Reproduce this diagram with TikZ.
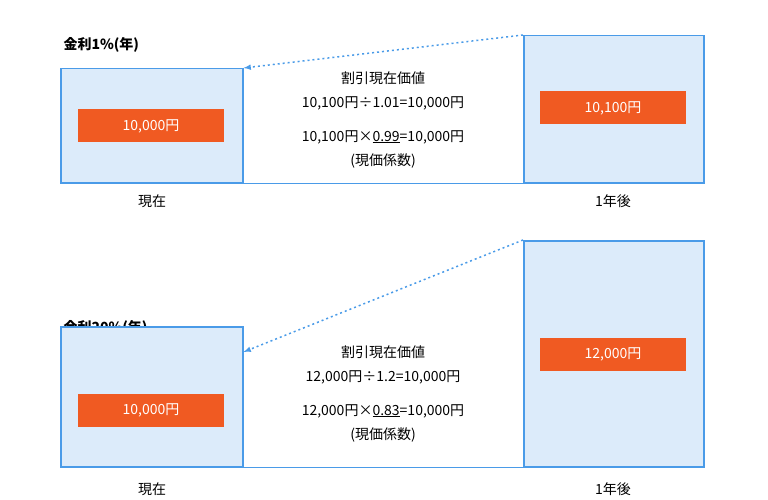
\documentclass[tikz,border=0pt]{standalone}
\usepackage{fontspec}
\setmainfont{Noto Sans CJK JP}
\usetikzlibrary{positioning}
\definecolor{boxblue}{HTML}{4A9BE8}
\definecolor{boxfill}{HTML}{DCEBFA}
\definecolor{tagorange}{HTML}{F05A22}
\begin{document}
\begin{tikzpicture}
[
x=1pt,y=-1pt,
period/.style={draw=boxblue,fill=boxfill,line width=1.5pt,anchor=north west,inner sep=0pt},
amount/.style={fill=tagorange,text=white,minimum width=146pt,minimum height=33pt,inner sep=0pt,font=\fontsize{14}{16}\selectfont},
caption/.style={font=\fontsize{14}{16}\selectfont},
rate/.style={font=\bfseries\fontsize{14}{16}\selectfont,anchor=west},
note/.style={align=center,font=\fontsize{14}{24}\selectfont},
pv/.style={draw=boxblue,line width=1.5pt,dash pattern=on 2pt off 3pt,-latex},
]
\useasboundingbox (0,0) rectangle (768,500);
%Top panel
\node[rate] (r1) at (60,45) {金利1\%(年)};
\node[period,minimum width=182pt,minimum height=114pt] (a1) at (60,68) {};
\node[period,minimum width=180pt,minimum height=147pt] (b1) at (523,35) {};
\draw[boxblue,line width=1.5pt] (a1.south east) -- (b1.south west);
\node[amount] (m1) at (151,126) {10,000円};
\node[amount] (n1) at (613,108) {10,100円};
\node[note] (t1) at (383,91) {割引現在価値\\10,100円÷1.01=10,000円};
\node[note] (u1) at (383,149) {10,100円×\underline{0.99}=10,000円\\(現価係数)};
\node[caption] (p1) at (152,201) {現在};
\node[caption] (q1) at (613,201) {1年後};
\draw[pv] (b1.north west) -- (a1.north east);
%Bottom panel
\node[rate] (r2) at (60,328) {金利20\%(年)};
\node[period,minimum width=182pt,minimum height=140pt] (a2) at (60,326) {};
\node[period,minimum width=180pt,minimum height=226pt] (b2) at (523,240) {};
\draw[boxblue,line width=1.5pt] (a2.south east) -- (b2.south west);
\node[amount] (m2) at (151,410) {10,000円};
\node[amount] (n2) at (613,354) {12,000円};
\node[note] (t2) at (383,365) {割引現在価値\\12,000円÷1.2=10,000円};
\node[note] (u2) at (383,423) {12,000円×\underline{0.83}=10,000円\\(現価係数)};
\node[caption] (p2) at (152,489) {現在};
\node[caption] (q2) at (613,489) {1年後};
\draw[pv] (b2.north west) -- ([yshift=-26pt]a2.north east);
\end{tikzpicture}
\end{document}
